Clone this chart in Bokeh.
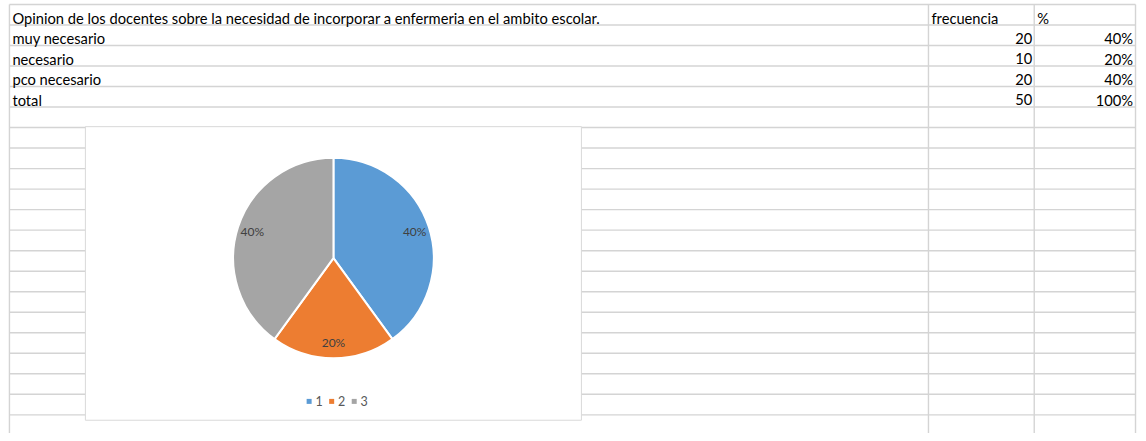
from bokeh.plotting import figure
from bokeh.models import Range1d, ColumnDataSource
from bokeh.embed import file_html
from bokeh.resources import INLINE
from bokeh.core.properties import value
import numpy as np

# ---- data ----
title_text = "Opinion de los docentes sobre la necesidad de incorporar a enfermeria en el ambito escolar."
col_headers = ["frecuencia", "%"]
categories = ["muy necesario", "necesario", "pco necesario"]
frecuencia = [20, 10, 20]
porcentaje = ["40%", "20%", "40%"]
total_label = "total"
total_frec = 50
total_pct = "100%"
legend_labels = ["1", "2", "3"]
slice_colors = ["#5B9BD5", "#ED7D31", "#A5A5A5"]

# ---- layout (reference pixels) ----
W, H = 1146, 441
FONT = "Lato"
FS = "14.7px"
row0 = 4.0
row_h = 20.9
n_lines = 21
vlines_x = [9, 934.5, 1041, 1143]
grid_color = "#d4d4d4"

p = figure(width=W - 8, height=H - 8, output_backend="svg", toolbar_location=None,
           x_range=Range1d(0, W), y_range=Range1d(-H, 0), min_border=0)
p.axis.visible = False
p.grid.visible = False
p.outline_line_color = None
p.background_fill_color = "white"
p.border_fill_color = "white"

def Y(v):
    return -np.asarray(v, dtype=float)

# gridlines
hy = [row0 + row_h * k for k in range(n_lines)]
p.segment(x0=[vlines_x[0]] * n_lines, x1=[vlines_x[-1]] * n_lines, y0=Y(hy), y1=Y(hy),
          line_color=grid_color, line_width=1.4)
p.segment(x0=vlines_x, x1=vlines_x, y0=Y([row0] * 4), y1=Y([H] * 4),
          line_color=grid_color, line_width=1.4)

# cell texts
def baseline(r):
    return row0 + row_h * (r + 1) - 7.5

left_texts = [title_text] + categories + [total_label]
p.text(x=[12] * len(left_texts), y=Y([baseline(r) for r in range(len(left_texts))]),
       text=left_texts, text_font=value(FONT), text_font_size=FS,
       text_color="black", text_baseline="alphabetic", text_align="left")
p.text(x=[937.5, 1044], y=Y([baseline(0)] * 2), text=col_headers, text_font=value(FONT),
       text_font_size=FS, text_color="black", text_baseline="alphabetic")
nums = [str(v) for v in frecuencia] + [str(total_frec)]
pcts = porcentaje + [total_pct]
p.text(x=[1039] * 4, y=Y([baseline(r) for r in range(1, 5)]), text=nums, text_font=value(FONT),
       text_font_size=FS, text_color="black", text_baseline="alphabetic", text_align="right")
p.text(x=[1140.5] * 4, y=Y([baseline(r) for r in range(1, 5)]), text=pcts, text_font=value(FONT),
       text_font_size=FS, text_color="black", text_baseline="alphabetic", text_align="right")

# chart area
cx0, cy0, cx1, cy1 = 85.5, 128.5, 585, 427.5
p.quad(left=[cx0], right=[cx1], top=Y([cy0]), bottom=Y([cy1]),
       fill_color="white", line_color="#d9d9d9", line_width=1)

# pie
pcx, pcy, R = 335.3, 262.3, 101
vals = np.array(frecuencia, dtype=float)
frac = vals / vals.sum()
cum = np.concatenate([[0], np.cumsum(frac)])
start = np.pi / 2 - cum[1:] * 2 * np.pi
end = np.pi / 2 - cum[:-1] * 2 * np.pi
src = ColumnDataSource(dict(start=start, end=end, color=slice_colors))
p.wedge(x=pcx, y=-pcy, radius=R, start_angle="start", end_angle="end", source=src,
        fill_color="color", line_color="white", line_width=2)

mid = (cum[1:] + cum[:-1]) / 2 * 2 * np.pi
lr = 86
lx = pcx + lr * np.sin(mid)
ly = pcy - lr * np.cos(mid)
lbl = ["%d%%" % round(f * 100) for f in frac]
p.text(x=lx, y=Y(ly), text=lbl, text_font=value(FONT), text_font_size="12px",
       text_color="#404040", text_align="center", text_baseline="middle")

# legend
lgx0, lgy, step = 310.8, 408.3, 22.7
sq_x = [lgx0 + step * i for i in range(len(legend_labels))]
p.scatter(x=sq_x, y=Y([lgy] * 3), marker="square", size=5, fill_color=slice_colors, line_color=None)
p.text(x=[x + 6.3 for x in sq_x], y=Y([lgy] * 3), text=legend_labels, text_font=value(FONT),
       text_font_size="12.5px", text_color="#595959", text_baseline="middle", text_align="left")

open("out.html", "w").write(file_html(p, INLINE))
